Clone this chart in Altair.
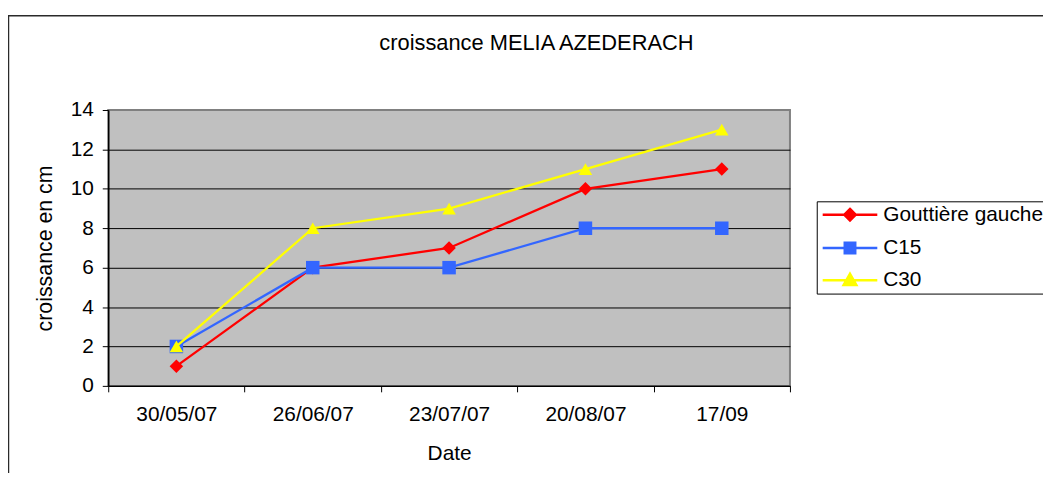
import altair as alt
import pandas as pd

# ---- data ----
dates = ["30/05/07", "26/06/07", "23/07/07", "20/08/07", "17/09"]
series = ["Gouttière gauche", "C15", "C30"]
gouttiere_gauche = [1, 6, 7, 10, 11]
c15 = [2, 6, 6, 8, 8]
c30 = [2, 8, 9, 11, 13]
y_ticks = [0, 2, 4, 6, 8, 10, 12, 14]

colors = ["#FF0000", "#3366FF", "#FFFF00"]
markers = ["diamond", "square", "triangle-up"]
# legend symbols: a line segment with the marker on it (unit box scaled by sqrt(size)/2)
legend_paths = [
    "M-3.44,0L3.44,0M0,-0.72L0.72,0L0,0.72L-0.72,0Z",
    "M-3.44,0L3.44,0M-0.66,-0.66L0.66,-0.66L0.66,0.66L-0.66,0.66Z",
    "M-3.44,0L3.44,0M0,-0.8L0.8,0.62L-0.8,0.62Z",
]

rows = []
for name, vals in zip(series, [gouttiere_gauche, c15, c30]):
    for d, v in zip(dates, vals):
        rows.append({"Date": d, "series": name, "value": v})
df = pd.DataFrame(rows)

FONT = "Liberation Sans"

x_enc = alt.X(
    "Date:N",
    sort=dates,
    scale=alt.Scale(type="band", domain=dates, paddingInner=0, paddingOuter=0),
    axis=alt.Axis(
        title="Date", tickBand="extent", grid=False, labelAngle=0,
        tickSize=6, labelPadding=12, titlePadding=18.5,
    ),
)
y_enc = alt.Y(
    "value:Q",
    scale=alt.Scale(domain=[0, 14], nice=False, zero=True),
    axis=alt.Axis(
        title="croissance en cm", values=y_ticks, grid=True,
        gridColor=alt.condition("datum.value == 14", alt.value("#808080"), alt.value("#000000")),
        gridWidth=1, tickSize=6, labelPadding=9, titlePadding=14,
    ),
)

base = alt.Chart(df)

frame = alt.Chart(pd.DataFrame({"k": [0]})).mark_rect(
    fillOpacity=0, stroke="#2a2a2a", strokeWidth=1.5
).encode(
    x=alt.value(-100.5), x2=alt.value(2000), y=alt.value(-95), y2=alt.value(2000)
)

series_layers = []
for name, col, shp in zip(series, colors, markers):
    sub = base.transform_filter(alt.datum.series == name)
    series_layers.append(sub.mark_line(strokeWidth=2.3, color=col).encode(x=x_enc, y=y_enc))
    series_layers.append(
        sub.mark_point(shape=shp, filled=True, size=185, opacity=1, color=col).encode(x=x_enc, y=y_enc)
    )

leg = alt.Legend(
    title=None, orient="none", legendX=714, legendY=92, direction="vertical",
    fillColor="white", strokeColor="#000000", padding=3, rowPadding=10.5,
    labelFont=FONT, labelFontSize=21, labelColor="black", labelLimit=500,
    labelOffset=23, symbolSize=256, symbolStrokeWidth=2.5, symbolOffset=20,
    symbolOpacity=1,
)

legend_layer = base.transform_filter("false").mark_point(filled=True, strokeWidth=2.5).encode(
    x=x_enc, y=y_enc,
    fill=alt.Fill("series:N", scale=alt.Scale(domain=series, range=colors), legend=leg),
    stroke=alt.Stroke("series:N", scale=alt.Scale(domain=series, range=colors), legend=leg),
    shape=alt.Shape("series:N", scale=alt.Scale(domain=series, range=legend_paths), legend=leg),
)

chart = alt.layer(frame, *series_layers, legend_layer).properties(
    width=687,
    height=278,
    autosize=alt.AutoSizeParams(type="none"),
    padding={"left": 101, "top": 101, "right": 255, "bottom": 86},
    title=alt.TitleParams(
        "croissance MELIA AZEDERACH", font=FONT, fontSize=22, fontWeight="normal",
        color="black", anchor="middle", dx=88, offset=0, dy=57, baseline="alphabetic",
    ),
).configure_view(
    fill="#C0C0C0", stroke="#808080", strokeWidth=2
).configure_axis(
    labelFont=FONT, labelFontSize=21, labelColor="black",
    titleFont=FONT, titleFontSize=21, titleFontWeight="normal", titleColor="black",
    tickColor="black", domainColor="black", domainWidth=1.5,
).configure_axisY(titleFontSize=21.5)

chart.save("out.html", embed_options={"renderer": "svg", "actions": False})
